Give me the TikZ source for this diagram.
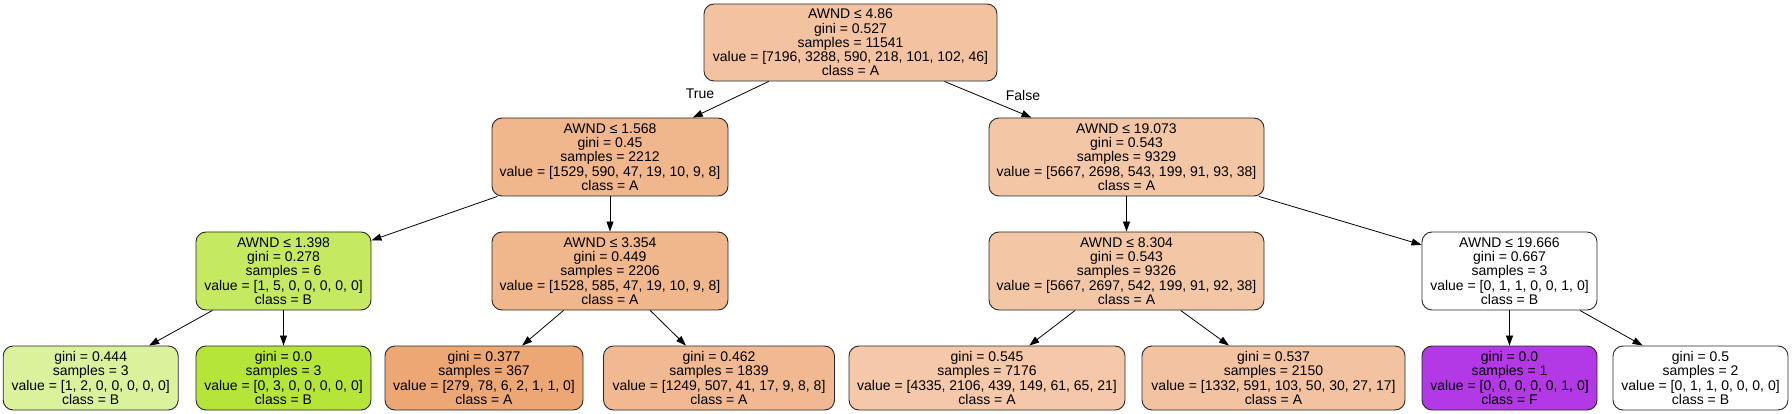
\documentclass[tikz,border=0pt]{standalone}
\usepackage{fontspec}
\setmainfont{Liberation Sans}
\usetikzlibrary{arrows.meta}
\definecolor{cRoot}{RGB}{243,195,161}
\definecolor{cLa}{RGB}{240,182,140}
\definecolor{cLb}{RGB}{243,199,166}
\definecolor{cGa}{RGB}{197,234,97}
\definecolor{cGb}{RGB}{218,242,156}
\definecolor{cGc}{RGB}{182,229,57}
\definecolor{cOa}{RGB}{237,167,117}
\definecolor{cOb}{RGB}{241,185,145}
\definecolor{cOc}{RGB}{244,200,168}
\definecolor{cOd}{RGB}{243,195,161}
\definecolor{cPu}{RGB}{178,57,229}
\definecolor{cEdge}{RGB}{40,40,40}
\begin{document}
\begin{tikzpicture}[x=1pt,y=-1pt,
  treebox/.style={draw=cEdge, line width=0.9pt, rounded corners=10pt, inner sep=0pt,
    align=center, font=\fontsize{14}{14.2}\selectfont, minimum height=78pt},
  leafbox/.style={treebox, minimum height=64pt},
  conn/.style={draw=black, line width=0.8pt, -{Triangle[length=10pt,width=7pt]}},
  lbl/.style={font=\fontsize{14}{14.2}\selectfont, inner sep=0pt}]
\useasboundingbox (0,0) rectangle (1792,414);
% level 0
\node[treebox, fill=cRoot, minimum width=293pt, minimum height=77pt] (root) at (850.5,42.5)
  {AWND ≤ 4.86\\gini = 0.527\\samples = 11541\\value = [7196, 3288, 590, 218, 101, 102, 46]\\class = A};
% level 1
\node[treebox, fill=cLa, minimum width=236pt] (n1) at (610,157)
  {AWND ≤ 1.568\\gini = 0.45\\samples = 2212\\value = [1529, 590, 47, 19, 10, 9, 8]\\class = A};
\node[treebox, fill=cLb, minimum width=275pt] (n2) at (1126.5,157)
  {AWND ≤ 19.073\\gini = 0.543\\samples = 9329\\value = [5667, 2698, 543, 199, 91, 93, 38]\\class = A};
% level 2
\node[treebox, fill=cGa, minimum width=175pt] (n3) at (283.5,271)
  {AWND ≤ 1.398\\gini = 0.278\\samples = 6\\value = [1, 5, 0, 0, 0, 0, 0]\\class = B};
\node[treebox, fill=cLa, minimum width=236pt] (n4) at (610,271)
  {AWND ≤ 3.354\\gini = 0.449\\samples = 2206\\value = [1528, 585, 47, 19, 10, 9, 8]\\class = A};
\node[treebox, fill=cLb, minimum width=275pt] (n5) at (1126.5,271)
  {AWND ≤ 8.304\\gini = 0.543\\samples = 9326\\value = [5667, 2697, 542, 199, 91, 92, 38]\\class = A};
\node[treebox, fill=white, minimum width=175pt] (n6) at (1509.5,271)
  {AWND ≤ 19.666\\gini = 0.667\\samples = 3\\value = [0, 1, 1, 0, 0, 1, 0]\\class = B};
% level 3
\node[leafbox, fill=cGb, minimum width=175pt] (l1) at (90.7,378)
  {gini = 0.444\\samples = 3\\value = [1, 2, 0, 0, 0, 0, 0]\\class = B};
\node[leafbox, fill=cGc, minimum width=175pt] (l2) at (283.5,378)
  {gini = 0.0\\samples = 3\\value = [0, 3, 0, 0, 0, 0, 0]\\class = B};
\node[leafbox, fill=cOa, minimum width=198pt] (l3) at (484,378)
  {gini = 0.377\\samples = 367\\value = [279, 78, 6, 2, 1, 1, 0]\\class = A};
\node[leafbox, fill=cOb, minimum width=231pt] (l4) at (719,378)
  {gini = 0.462\\samples = 1839\\value = [1249, 507, 41, 17, 9, 8, 8]\\class = A};
\node[leafbox, fill=cOc, minimum width=276pt] (l5) at (987,378)
  {gini = 0.545\\samples = 7176\\value = [4335, 2106, 439, 149, 61, 65, 21]\\class = A};
\node[leafbox, fill=cOd, minimum width=263pt] (l6) at (1273.5,378)
  {gini = 0.537\\samples = 2150\\value = [1332, 591, 103, 50, 30, 27, 17]\\class = A};
\node[leafbox, fill=cPu, minimum width=175pt] (l7) at (1509.5,378)
  {gini = 0.0\\samples = 1\\value = [0, 0, 0, 0, 0, 1, 0]\\class = F};
\node[leafbox, fill=white, minimum width=175pt] (l8) at (1700.5,378)
  {gini = 0.5\\samples = 2\\value = [0, 1, 1, 0, 0, 0, 0]\\class = B};
% edge labels
\node[lbl] (tlabel) at (700,94) {True};
\node[lbl] (flabel) at (1023,95) {False};
% connectors
\draw[conn] (root) -- (n1);
\draw[conn] (root) -- (n2);
\draw[conn] (n1) -- (n3);
\draw[conn] (n1) -- (n4);
\draw[conn] (n2) -- (n5);
\draw[conn] (n2) -- (n6);
\draw[conn] (n3) -- (l1);
\draw[conn] (n3) -- (l2);
\draw[conn] (n4) -- (l3);
\draw[conn] (n4) -- (l4);
\draw[conn] (n5) -- (l5);
\draw[conn] (n5) -- (l6);
\draw[conn] (n6) -- (l7);
\draw[conn] (n6) -- (l8);
\end{tikzpicture}
\end{document}
